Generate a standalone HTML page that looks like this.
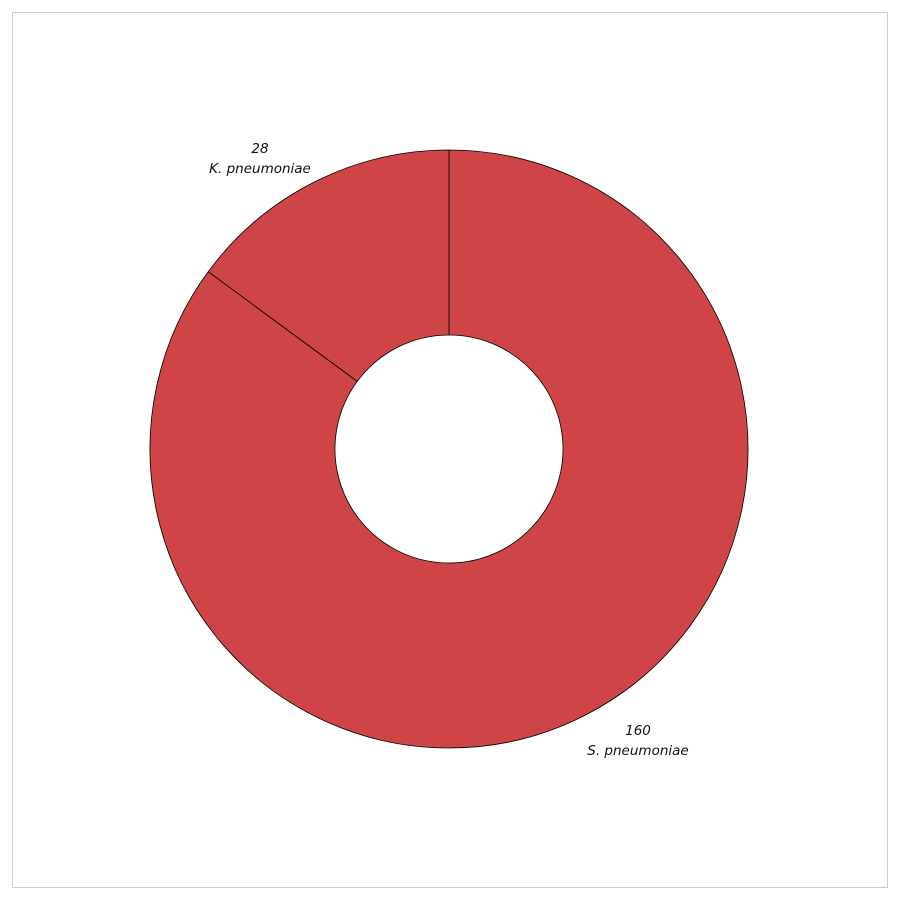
<!DOCTYPE html>
<html><head><meta charset="utf-8"><style>
html,body{margin:0;padding:0;background:#fff;width:900px;height:900px;overflow:hidden}
svg{display:block}
text{font-family:"DejaVu Sans","Liberation Sans",sans-serif;font-style:italic;font-size:13.5px;fill:#111}
</style></head><body>
<svg id="chart" width="900" height="900">
<rect x="12.5" y="12.5" width="875" height="875" fill="#fff" stroke="#ccc"/>
<g id="slices"></g>
</svg>
<script>
const categories = ["S. pneumoniae", "K. pneumoniae"];
const values = [160, 28];
const labelPos = [[638, 735], [260, 153]];

const cx = 449, cy = 449, R = 299, r = 114;
const total = values.reduce((a, b) => a + b, 0);
const g = document.getElementById('slices');
const ns = 'http://www.w3.org/2000/svg';
function pt(rad, a) { return [cx + rad * Math.sin(a), cy - rad * Math.cos(a)]; }
let start = 0;
values.forEach((v, i) => {
  const sweep = v / total * 2 * Math.PI;
  const end = start + sweep;
  const large = sweep > Math.PI ? 1 : 0;
  const [x1, y1] = pt(R, start), [x2, y2] = pt(R, end);
  const [x3, y3] = pt(r, end), [x4, y4] = pt(r, start);
  const p = document.createElementNS(ns, 'path');
  p.setAttribute('d', `M${x1},${y1} A${R},${R} 0 ${large} 1 ${x2},${y2} L${x3},${y3} A${r},${r} 0 ${large} 0 ${x4},${y4} Z`);
  p.setAttribute('fill', '#cf4547');
  p.setAttribute('stroke', '#000');
  p.setAttribute('stroke-width', '0.8');
  
  
  g.appendChild(p);
  const [lx, ly] = labelPos[i];
  const t1 = document.createElementNS(ns, 'text');
  t1.setAttribute('x', lx); t1.setAttribute('y', ly);
  t1.setAttribute('text-anchor', 'middle');
  t1.textContent = v;
  
  
  g.appendChild(t1);
  const t2 = document.createElementNS(ns, 'text');
  t2.setAttribute('x', lx); t2.setAttribute('y', ly + 20);
  t2.setAttribute('text-anchor', 'middle');
  t2.textContent = categories[i];
  
  
  g.appendChild(t2);
  start = end;
});
</script>
</body></html>
